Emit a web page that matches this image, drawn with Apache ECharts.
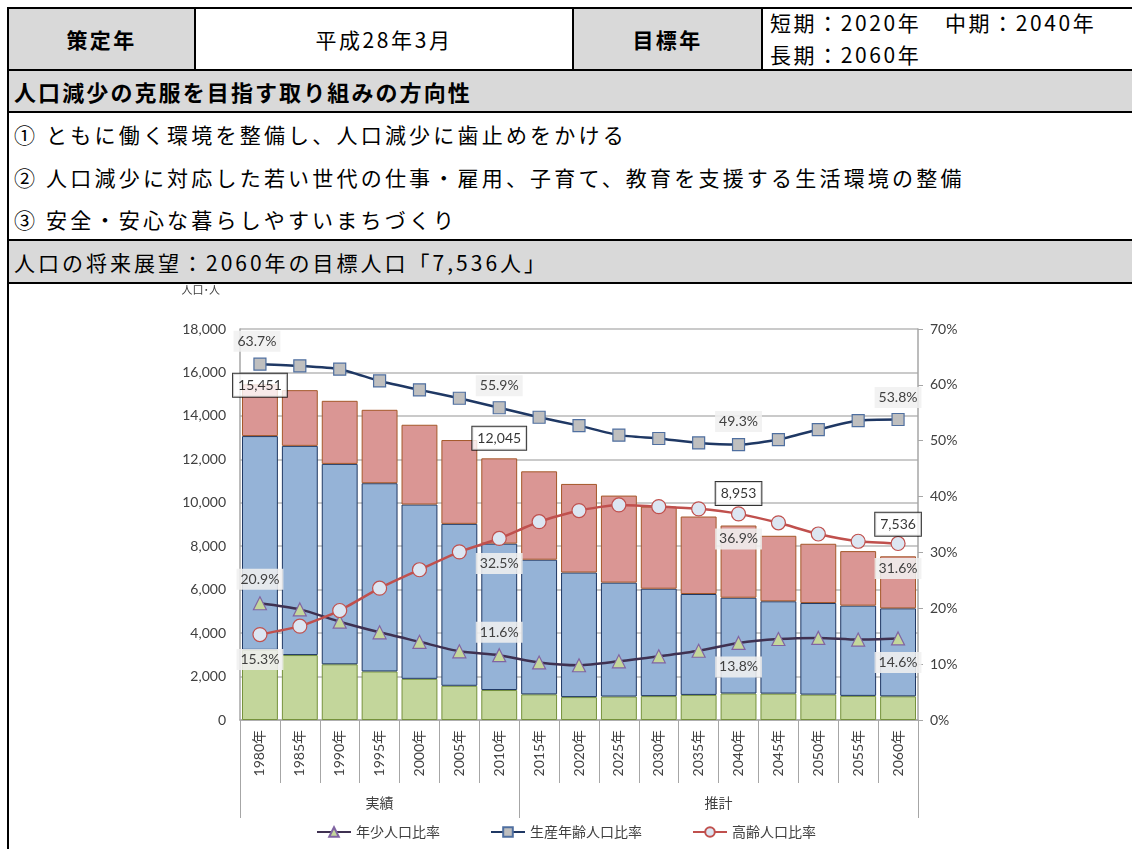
<!DOCTYPE html>
<html><head><meta charset="utf-8">
<script src="https://cdn.jsdelivr.net/npm/echarts@6/dist/echarts.min.js"></script>
<style>
html,body{margin:0;padding:0;background:#fff;}
body{width:1132px;height:849px;position:relative;overflow:hidden;font-family:"Noto Sans CJK JP",sans-serif;color:#000;}
.bg{position:absolute;background:#d9d9d9;}
.hl{position:absolute;background:#000;height:2px;}
.vl{position:absolute;background:#000;width:2px;}
.t{position:absolute;white-space:nowrap;display:flex;align-items:center;font-size:21px;letter-spacing:3.2px;}
.c{justify-content:center;}
.b{font-weight:bold;}
#chart{position:absolute;left:0;top:284px;width:1132px;height:565px;}
</style></head><body>
<div class="bg" style="left:8px;top:8px;width:187px;height:62px"></div>
<div class="bg" style="left:573px;top:8px;width:189px;height:62px"></div>
<div class="bg" style="left:8px;top:70px;width:1124px;height:42px"></div>
<div class="bg" style="left:8px;top:240px;width:1124px;height:43px"></div>

<div class="hl" style="left:7px;top:7px;width:1125px"></div>
<div class="hl" style="left:7px;top:69px;width:1125px"></div>
<div class="hl" style="left:7px;top:111px;width:1125px"></div>
<div class="hl" style="left:7px;top:239px;width:1125px"></div>
<div class="hl" style="left:7px;top:282px;width:1125px"></div>
<div class="vl" style="left:7px;top:7px;height:842px"></div>
<div class="vl" style="left:194px;top:7px;height:63px"></div>
<div class="vl" style="left:572px;top:7px;height:63px"></div>
<div class="vl" style="left:761px;top:7px;height:63px"></div>

<div class="t c b" style="left:9px;top:9px;width:185px;height:60px;letter-spacing:2.4px">策定年</div>
<div class="t c" style="left:196px;top:9px;width:376px;height:60px;letter-spacing:2.6px">平成28年3月</div>
<div class="t c b" style="left:574px;top:9px;width:187px;height:60px;letter-spacing:2.4px">目標年</div>
<div class="t" style="left:770px;top:8px;height:28px;letter-spacing:2.6px">短期：2020年　中期：2040年</div>
<div class="t" style="left:770px;top:40px;height:28px;letter-spacing:2.6px">長期：2060年</div>
<div class="t b" style="left:14px;top:71px;height:40px;font-size:22px;letter-spacing:2.1px">人口減少の克服を目指す取り組みの方向性</div>
<div class="t" style="left:14px;top:114px;height:40px">① ともに働く環境を整備し、人口減少に歯止めをかける</div>
<div class="t" style="left:14px;top:157px;height:40px">② 人口減少に対応した若い世代の仕事・雇用、子育て、教育を支援する生活環境の整備</div>
<div class="t" style="left:14px;top:199px;height:40px">③ 安全・安心な暮らしやすいまちづくり</div>
<div class="t" style="left:14px;top:241px;height:41px;letter-spacing:3.0px">人口の将来展望：2060年の目標人口「7,536人」</div>

<div id="chart"></div>
<script>
// ---- data ----
const years = ['1980年','1985年','1990年','1995年','2000年','2005年','2010年','2015年','2020年','2025年','2030年','2035年','2040年','2045年','2050年','2055年','2060年'];
const groups = ['実績','推計'];
const groupSizes = [7, 10];
const youngPop   = [3229, 2990, 2565, 2235, 1895, 1575, 1380, 1180, 1055, 1080, 1100, 1155, 1220, 1215, 1170, 1110, 1090];
const workingPop = [9842, 9630, 9225, 8665, 8025, 7455, 6740, 6200, 5735, 5245, 4945, 4645, 4410, 4250, 4215, 4155, 4050];
const elderlyPop = [2380, 2565, 2904, 3380, 3672, 3858, 3925, 4068, 4078, 4006, 3781, 3567, 3323, 3015, 2728, 2510, 2396];
const youngRate   = [20.9, 19.8, 17.6, 15.7, 14.0, 12.3, 11.6, 10.3, 9.8, 10.5, 11.4, 12.4, 13.8, 14.5, 14.7, 14.4, 14.6];
const workingRate = [63.7, 63.4, 62.8, 60.7, 59.1, 57.6, 55.9, 54.2, 52.7, 51.0, 50.4, 49.6, 49.3, 50.2, 52.0, 53.6, 53.8];
const elderlyRate = [15.3, 16.8, 19.6, 23.6, 26.9, 30.1, 32.5, 35.5, 37.5, 38.5, 38.2, 37.8, 36.9, 35.3, 33.3, 32.0, 31.6];
const lineNames = ['年少人口比率','生産年齢人口比率','高齢人口比率'];
const barNames = ['年少人口','生産年齢人口','高齢人口'];
const yLeftName = '人口･人';
const labeledIdx = [0, 6, 12, 16];

// ---- chart ----
const FONT = "Lato, 'Noto Sans CJK JP', sans-serif";
const TXT = '#404040';
const totals = years.map((_, i) => youngPop[i] + workingPop[i] + elderlyPop[i]);
const fmtInt = v => String(Math.round(v)).replace(/\B(?=(\d{3})+(?!\d))/g, ',');

const pctBox = {
  show: true, position: 'inside', fontSize: 14, color: TXT, fontFamily: FONT,
  backgroundColor: 'rgba(240,240,240,0.88)', padding: [4, 4, 3, 4],
  formatter: p => p.value.toFixed(1) + '%'
};
function withLabels(values, offsets) {
  return values.map((v, i) => {
    const k = labeledIdx.indexOf(i);
    if (k < 0) return { value: v, label: { show: false } };
    return { value: v, label: Object.assign({}, pctBox, { offset: offsets[k] }) };
  });
}
const totalOffsets = [[0, 1], [0, -20], [0, -32], [0, -32]];
const totalData = totals.map((v, i) => {
  const k = labeledIdx.indexOf(i);
  if (k < 0) return { value: v, label: { show: false } };
  return { value: v, label: {
    show: true, position: 'inside', offset: totalOffsets[k], fontSize: 14, color: '#000', fontFamily: FONT,
    backgroundColor: '#fff', borderColor: '#000', borderWidth: 1, padding: [5, 5, 4, 5],
    formatter: p => fmtInt(p.value)
  } };
});

const barCommon = { type: 'bar', stack: 'pop', yAxisIndex: 0, xAxisIndex: 0, barCategoryGap: '10%', z: 2 };
const chart = echarts.init(document.getElementById('chart'), null, { renderer: 'canvas' });
chart.setOption({
  animation: false,
  textStyle: { fontFamily: FONT },
  grid: { left: 240, right: 214, top: 44, bottom: 129 },
  legend: {
    data: lineNames, bottom: 5, left: 'center', itemWidth: 34, itemHeight: 12, itemGap: 50,
    textStyle: { fontSize: 14, color: TXT, fontFamily: "'Noto Sans CJK JP', sans-serif" }
  },
  xAxis: [{
    type: 'category', data: years, boundaryGap: true,
    axisLine: { lineStyle: { color: '#a6a6a6', width: 1.5 } },
    axisTick: { show: true, interval: 0, length: 63, lineStyle: { color: '#a6a6a6' } },
    axisLabel: { interval: 0, rotate: 90, margin: 10, fontSize: 14, color: TXT, fontFamily: FONT }
  }, {
    type: 'value', min: 0, max: years.length, position: 'bottom',
    axisLine: { show: false }, splitLine: { show: false },
    axisTick: { show: true, customValues: [0, groupSizes[0], groupSizes[0] + groupSizes[1]], length: 98, lineStyle: { color: '#a6a6a6' } },
    axisLabel: {
      customValues: [groupSizes[0] / 2, groupSizes[0] + groupSizes[1] / 2],
      formatter: v => (v < groupSizes[0] ? groups[0] : groups[1]),
      margin: 76, fontSize: 14, color: TXT, fontFamily: "'Noto Sans CJK JP', sans-serif"
    }
  }],
  yAxis: [{
    type: 'value', min: 0, max: 18000, interval: 2000, position: 'left',
    name: yLeftName, nameLocation: 'end', nameGap: 34,
    nameTextStyle: { fontSize: 11, color: TXT, align: 'right', padding: [0, 20, 0, 0], fontFamily: "'Noto Sans CJK JP', sans-serif" },
    axisLine: { show: true, lineStyle: { color: '#a6a6a6', width: 1.5 } },
    axisTick: { show: false },
    axisLabel: { margin: 14, fontSize: 14, color: TXT, formatter: v => fmtInt(v) },
    splitLine: { show: true, lineStyle: { color: '#b8b8b8', width: 1.5 } }
  }, {
    type: 'value', min: 0, max: 70, interval: 10, position: 'right',
    axisLine: { show: true, lineStyle: { color: '#a6a6a6', width: 1.5 } },
    axisTick: { show: true, length: 5, lineStyle: { color: '#a6a6a6' } },
    axisLabel: { margin: 12, fontSize: 14, color: TXT, formatter: v => v + '%' },
    splitLine: { show: false }
  }],
  series: [
    Object.assign({ name: barNames[0], data: youngPop, itemStyle: { color: '#c3d69b', borderColor: '#76923c', borderWidth: 1 } }, barCommon),
    Object.assign({ name: barNames[1], data: workingPop, itemStyle: { color: '#95b3d7', borderColor: '#1f3864', borderWidth: 1 } }, barCommon),
    Object.assign({ name: barNames[2], data: elderlyPop, itemStyle: { color: '#da9694', borderColor: '#a5582a', borderWidth: 1 } }, barCommon),
    {
      name: lineNames[0], type: 'line', yAxisIndex: 1, z: 5, smooth: 0.25,
      symbol: 'triangle', symbolSize: 13,
      lineStyle: { color: '#3f3151', width: 2.5 },
      itemStyle: { color: '#c4d79b', borderColor: '#8064a2', borderWidth: 1.2 },
      data: withLabels(youngRate, [[0, -24], [0, -23], [0, 24], [0, 24]])
    },
    {
      name: lineNames[1], type: 'line', yAxisIndex: 1, z: 5, smooth: 0.2,
      symbol: 'rect', symbolSize: 12,
      lineStyle: { color: '#1f3864', width: 2.5 },
      itemStyle: { color: '#bfbfbf', borderColor: '#4f6fa0', borderWidth: 1.2 },
      data: withLabels(workingRate, [[-3, -23], [0, -22], [0, -23], [0, -22]])
    },
    {
      name: lineNames[2], type: 'line', yAxisIndex: 1, z: 5, smooth: 0.2,
      symbol: 'circle', symbolSize: 14,
      lineStyle: { color: '#c0504d', width: 2.5 },
      itemStyle: { color: '#dce6f2', borderColor: '#c0504d', borderWidth: 1.2 },
      data: withLabels(elderlyRate, [[0, 25], [0, 25], [0, 25], [0, 25]])
    },
    {
      name: '総人口', type: 'scatter', yAxisIndex: 0, z: 8, symbolSize: 0, silent: true,
      data: totalData
    }
  ]
});
</script>
</body></html>
